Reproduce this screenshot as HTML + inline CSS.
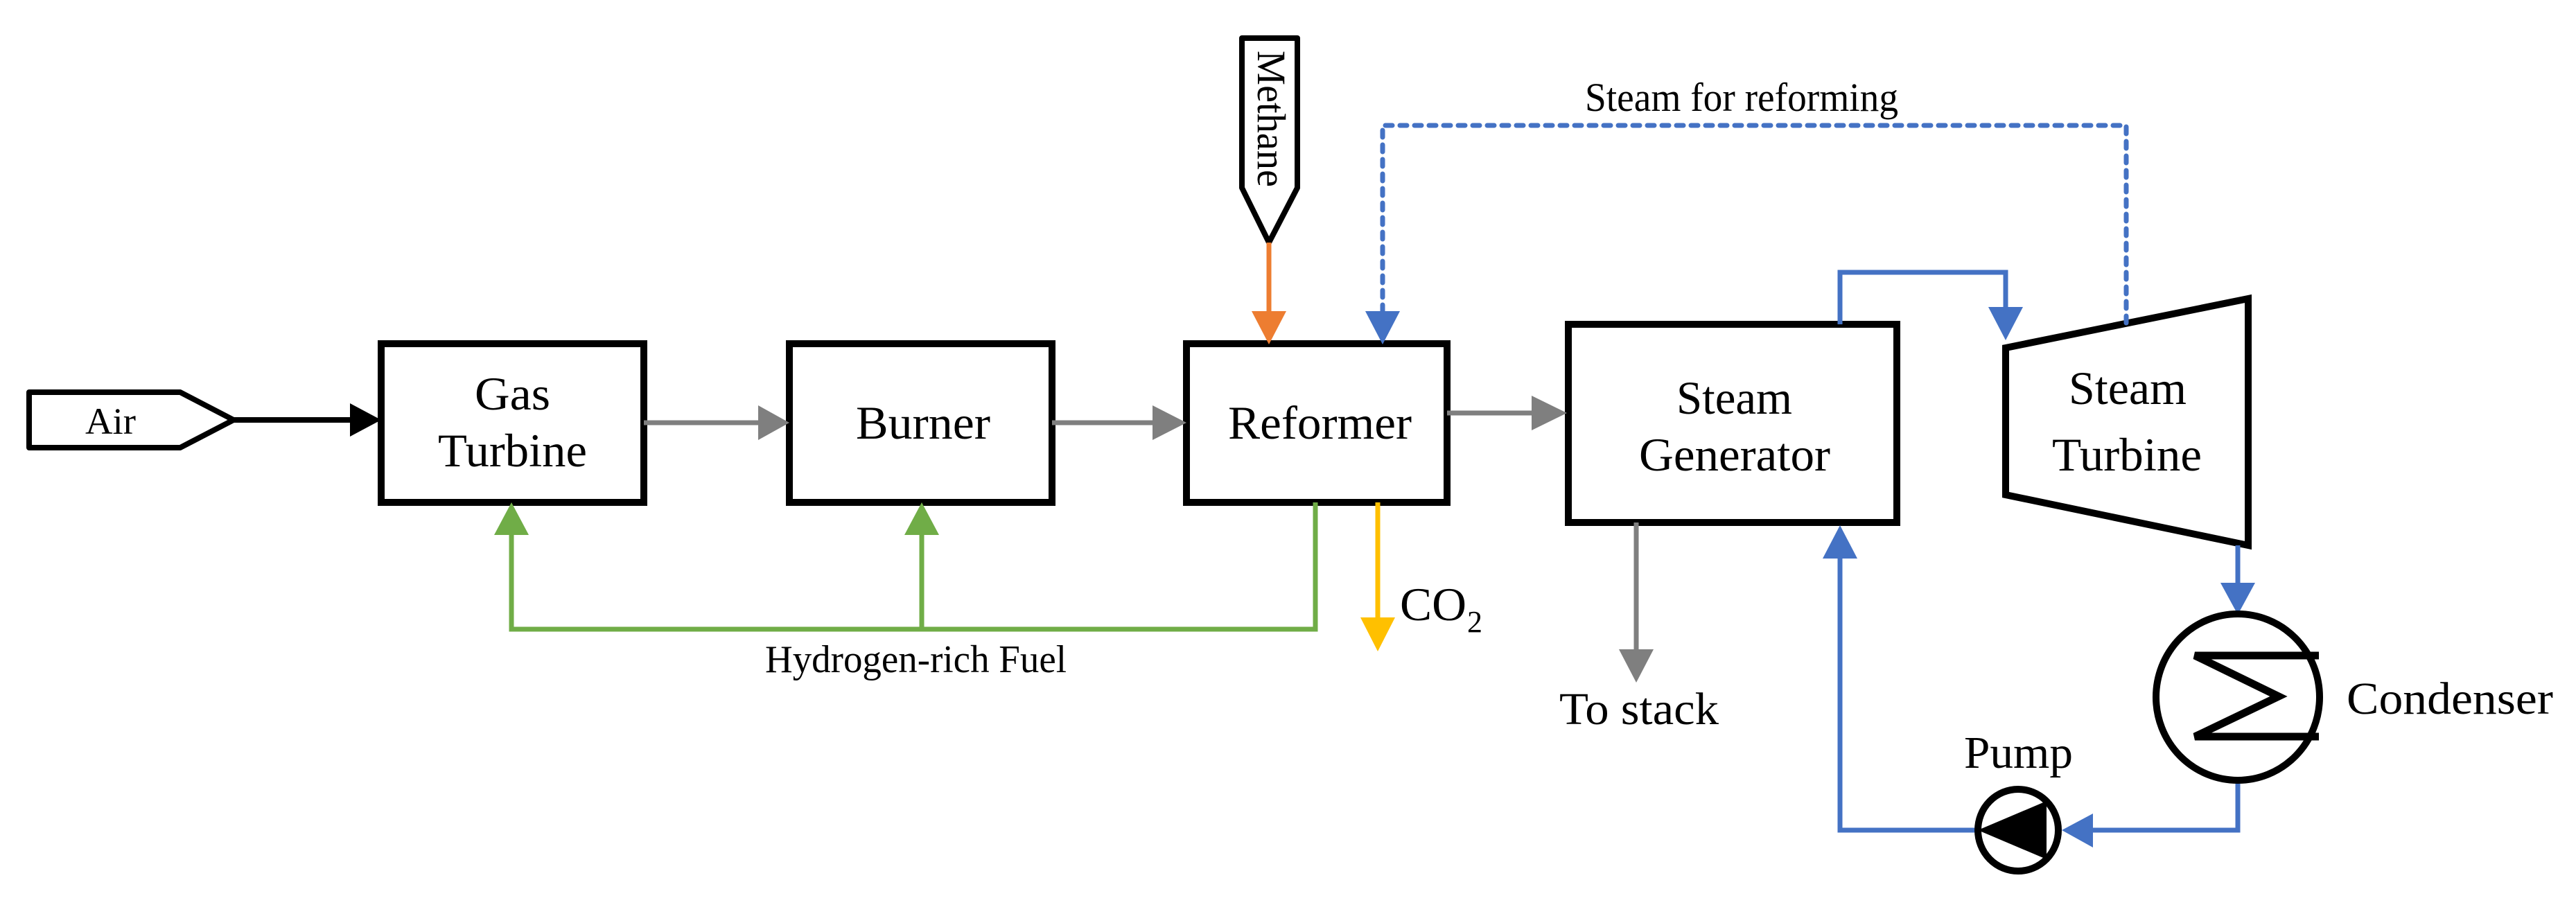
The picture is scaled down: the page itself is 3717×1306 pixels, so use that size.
<!DOCTYPE html>
<html><head><meta charset="utf-8"><style>
html,body{margin:0;padding:0;background:#fff;}
svg{display:block;}
text{font-family:"Liberation Serif",serif;fill:#000;}
</style></head><body>
<svg width="3717" height="1306" viewBox="0 0 3717 1306" xmlns="http://www.w3.org/2000/svg">
<!-- Air -->
<path d="M42,566 L260,566 L337,606 L260,646 L42,646 Z" fill="#fff" stroke="#000" stroke-width="8" stroke-linejoin="round"/>
<text x="123" y="626" font-size="54" textLength="73" lengthAdjust="spacingAndGlyphs">Air</text>
<line x1="337" y1="606" x2="510" y2="606" stroke="#000" stroke-width="8"/>
<path d="M505,582 L550,606 L505,630 Z" fill="#000"/>

<!-- boxes -->
<rect x="550" y="496" width="379" height="229" fill="#fff" stroke="#000" stroke-width="10"/>
<rect x="1139" y="496" width="379" height="229" fill="#fff" stroke="#000" stroke-width="10"/>
<rect x="1712" y="496" width="376" height="229" fill="#fff" stroke="#000" stroke-width="10"/>
<rect x="2263" y="468" width="474" height="286" fill="#fff" stroke="#000" stroke-width="10"/>
<path d="M2894,502 L3244,431 L3244,787 L2894,714 Z" fill="#fff" stroke="#000" stroke-width="10"/>

<text x="685" y="591" font-size="68" textLength="109" lengthAdjust="spacingAndGlyphs">Gas</text>
<text x="632" y="673" font-size="68" textLength="215" lengthAdjust="spacingAndGlyphs">Turbine</text>
<text x="1235" y="633" font-size="68" textLength="194" lengthAdjust="spacingAndGlyphs">Burner</text>
<text x="1772" y="633" font-size="68" textLength="265" lengthAdjust="spacingAndGlyphs">Reformer</text>
<text x="2419" y="597" font-size="68" textLength="167" lengthAdjust="spacingAndGlyphs">Steam</text>
<text x="2365" y="679" font-size="68" textLength="276" lengthAdjust="spacingAndGlyphs">Generator</text>
<text x="2985" y="583" font-size="68" textLength="170" lengthAdjust="spacingAndGlyphs">Steam</text>
<text x="2961" y="679" font-size="68" textLength="216" lengthAdjust="spacingAndGlyphs">Turbine</text>

<!-- gray arrows -->
<g stroke="#7f7f7f" stroke-width="7" fill="none">
<line x1="929" y1="610" x2="1096" y2="610"/>
<line x1="1518" y1="610" x2="1665" y2="610"/>
<line x1="2088" y1="596" x2="2212" y2="596"/>
<line x1="2361" y1="754" x2="2361" y2="940"/>
</g>
<g fill="#7f7f7f">
<path d="M1094,585 L1139,610 L1094,635 Z"/>
<path d="M1663,585 L1712,610 L1663,635 Z"/>
<path d="M2210,571 L2261,596 L2210,621 Z"/>
<path d="M2336,937 L2361,985 L2386,937 Z"/>
</g>
<text x="2250" y="1045" font-size="66" textLength="230" lengthAdjust="spacingAndGlyphs">To stack</text>

<!-- Methane -->
<path d="M1792,55 L1872,55 L1872,271 L1831,350 L1792,271 Z" fill="#fff" stroke="#000" stroke-width="8" stroke-linejoin="round"/>
<text transform="translate(1815,73) rotate(90)" font-size="58" textLength="197" lengthAdjust="spacingAndGlyphs">Methane</text>
<line x1="1831" y1="350" x2="1831" y2="452" stroke="#ed7d31" stroke-width="7"/>
<path d="M1806,449 L1856,449 L1831,497 Z" fill="#ed7d31"/>

<!-- steam for reforming dotted -->
<path d="M3068,466 L3068,181 L1995,181 L1995,452" fill="none" stroke="#4472c4" stroke-width="7" stroke-dasharray="10,11" stroke-linecap="round"/>
<path d="M1970,449 L2020,449 L1995,497 Z" fill="#4472c4"/>
<text x="2287" y="160" font-size="58" textLength="452" lengthAdjust="spacingAndGlyphs">Steam for reforming</text>

<!-- green hydrogen -->
<path d="M1898,725 L1898,908 L738,908 L738,770 M1330,908 L1330,770" fill="none" stroke="#70ad47" stroke-width="7"/>
<path d="M713,772 L763,772 L738,725 Z" fill="#70ad47"/>
<path d="M1305,772 L1355,772 L1330,725 Z" fill="#70ad47"/>
<text x="1104" y="970" font-size="56" textLength="435" lengthAdjust="spacingAndGlyphs">Hydrogen-rich Fuel</text>

<!-- CO2 -->
<line x1="1988" y1="725" x2="1988" y2="893" stroke="#ffc000" stroke-width="7"/>
<path d="M1963,891 L2013,891 L1988,940 Z" fill="#ffc000"/>
<text x="2020" y="895" font-size="68" textLength="96" lengthAdjust="spacingAndGlyphs">CO</text>
<text x="2117" y="912" font-size="44">2</text>

<!-- blue steam cycle -->
<g stroke="#4472c4" stroke-width="7" fill="none">
<path d="M2655,468 L2655,393 L2894,393 L2894,446"/>
<line x1="3229" y1="787" x2="3229" y2="843"/>
<path d="M3229,1126 L3229,1198 L3016,1198"/>
<path d="M2850,1198 L2655,1198 L2655,804"/>
</g>
<g fill="#4472c4">
<path d="M2869,443 L2919,443 L2894,491 Z"/>
<path d="M3204,841 L3254,841 L3229,887 Z"/>
<path d="M3020,1174 L3020,1223 L2975,1198 Z"/>
<path d="M2630,806 L2680,806 L2655,758 Z"/>
</g>

<!-- condenser -->
<ellipse cx="3229" cy="1006" rx="118" ry="120" fill="#fff" stroke="#000" stroke-width="10"/>
<path d="M3346,946 L3167,946 L3288,1005 L3167,1063 L3346,1063" fill="none" stroke="#000" stroke-width="11"/>
<text x="3386" y="1030" font-size="66" textLength="298" lengthAdjust="spacingAndGlyphs">Condenser</text>

<!-- pump -->
<ellipse cx="2912" cy="1198" rx="58" ry="59" fill="#fff" stroke="#000" stroke-width="10"/>
<path d="M2854,1198 L2953,1156 L2953,1240 Z" fill="#000"/>
<text x="2834" y="1108" font-size="66" textLength="157" lengthAdjust="spacingAndGlyphs">Pump</text>
</svg>
</body></html>
